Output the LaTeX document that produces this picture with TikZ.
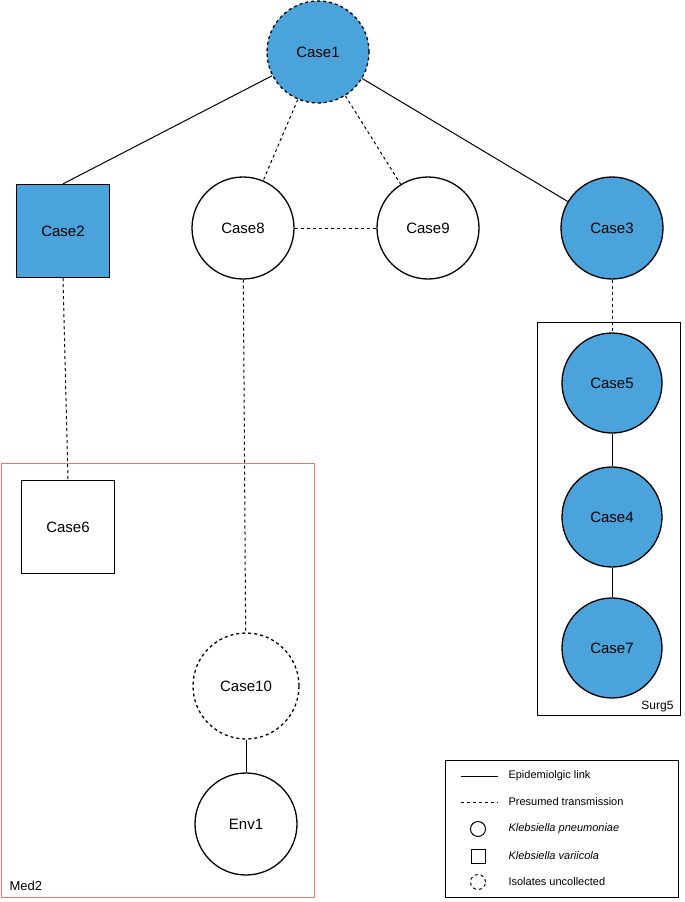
\documentclass[tikz,border=0pt]{standalone}
\usepackage{fontspec}
\setmainfont{Liberation Sans}
\begin{document}
\begin{tikzpicture}[x=1pt,y=-1pt,
 fillc/.style={fill={rgb,255:red,75;green,163;blue,220}},
 circ/.style={circle,draw,line width=1.3pt,minimum size=102pt,inner sep=0pt,font=\fontsize{15}{18}\selectfont},
 sq/.style={rectangle,draw,line width=1.3pt,minimum size=93pt,inner sep=0pt,font=\fontsize{15}{18}\selectfont},
 unc/.style={dash pattern=on 3pt off 3pt},
 link/.style={line width=1pt},
 pres/.style={line width=1pt,dash pattern=on 3pt off 3pt}]
\useasboundingbox (0,0) rectangle (685,902);
\draw[line width=0.6pt] (537,322) rectangle (680,715);
\node[anchor=south east,font=\fontsize{12}{14}\selectfont] (surg) at (677,716) {Surg5};
\draw[line width=0.8pt,draw={rgb,255:red,235;green,120;blue,100}] (1,463) rectangle (314,897);
\node[anchor=south west,font=\fontsize{13}{15}\selectfont] (med) at (6,894) {Med2};
\node[circ,fillc,unc] (c1) at (318,52) {Case1};
\node[sq,fillc] (c2) at (63,231) {Case2};
\node[circ] (c8) at (243,228) {Case8};
\node[circ] (c9) at (428,228) {Case9};
\node[circ,fillc] (c3) at (612,228) {Case3};
\node[circ,fillc,minimum size=100pt] (c5) at (612,383) {Case5};
\node[circ,fillc,minimum size=100pt] (c4) at (612,517) {Case4};
\node[circ,fillc,minimum size=100pt] (c7) at (612,648) {Case7};
\node[sq] (c6) at (68,527) {Case6};
\node[circ,unc,minimum size=106pt] (c10) at (246,686) {Case10};
\node[circ] (e1) at (246,824) {Env1};
\draw[link] (c1) -- (c2.north);
\draw[link] (c1) -- (c3);
\draw[pres] (c1) -- (c8);
\draw[pres] (c1) -- (c9);
\draw[pres] (c8) -- (c9);
\draw[pres] (c2.south) -- (c6.north);
\draw[pres] (c8) -- (c10);
\draw[pres] (c3) -- (c5);
\draw[link] (c5) -- (c4);
\draw[link] (c4) -- (c7);
\draw[link] (c10) -- (e1);
% legend
\draw[line width=0.8pt] (445,760) rectangle (678,897);
\begin{scope}[font=\fontsize{11}{13}\selectfont]
\coordinate (l1a) at (461,776); \coordinate (l1b) at (498,776);
\draw[link] (l1a) -- (l1b);
\node[anchor=west] (t1) at (505,776) {Epidemiolgic link};
\coordinate (l2a) at (461,802); \coordinate (l2b) at (498,802);
\draw[pres] (l2a) -- (l2b);
\node[anchor=west] (t2) at (505,802) {Presumed transmission};
\node[circle,draw,line width=1pt,minimum size=15pt,inner sep=0pt] (s1) at (478,829) {};
\node[anchor=west] (t3) at (505,829) {\itshape Klebsiella pneumoniae};
\node[rectangle,draw,line width=1pt,minimum size=14pt,inner sep=0pt] (s2) at (478,856) {};
\node[anchor=west] (t4) at (505,856) {\itshape Klebsiella variicola};
\node[circle,draw,line width=1pt,unc,minimum size=15pt,inner sep=0pt] (s3) at (478,882) {};
\node[anchor=west] (t5) at (505,882) {Isolates uncollected};
\end{scope}
\end{tikzpicture}
\end{document}
